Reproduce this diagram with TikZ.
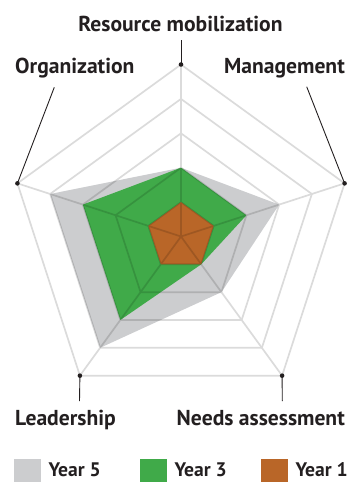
\documentclass[tikz,border=0pt]{standalone}
\usepackage{fontspec}
\setmainfont{PT Sans}
\definecolor{yfive}{RGB}{204,205,207}
\definecolor{ythree}{RGB}{64,170,73}
\definecolor{yone}{RGB}{185,102,40}
\definecolor{ink}{RGB}{35,31,32}
\tikzset{
  lbl/.style={font=\bfseries\fontsize{21.6}{25}\selectfont, text=ink, inner sep=0pt},
  leglbl/.style={font=\bfseries\fontsize{19.6}{23}\selectfont, text=ink, inner sep=0pt},
  leader/.style={draw=ink, line width=0.9pt},
  vdot/.style={fill=ink},
  gridline/.style={draw=black, line width=1.7pt, line join=miter},
  swatch/.style={inner sep=0pt, minimum width=26.5pt, minimum height=26.5pt, anchor=north west}
}
\begin{document}
\begin{tikzpicture}[x=1pt,y=-1pt]
\useasboundingbox (0,0) rectangle (350,482);
\begin{scope}[shift={(181,236.5)}]
  % data fills
  \fill[yfive] (-90:68.8) -- (-18:103.2) -- (54:68.8) -- (126:137.6) -- (198:137.6) -- cycle;
  \fill[ythree] (-90:68.8) -- (-18:68.8) -- (54:34.4) -- (126:103.2) -- (198:103.2) -- cycle;
  \fill[yone] (-90:34.4) -- (-18:34.4) -- (54:34.4) -- (126:34.4) -- (198:34.4) -- cycle;
  % grid
  \begin{scope}[transparency group, opacity=0.14]
    \foreach \r in {34.4,68.8,103.2,137.6,172}{
      \draw[gridline] (-90:\r) -- (-18:\r) -- (54:\r) -- (126:\r) -- (198:\r) -- cycle;
    }
    \foreach \a in {-90,-18,54,126,198}{
      \draw[gridline] (0,0) -- (\a:172);
    }
  \end{scope}
  % outer vertices
  \coordinate (vRM) at (-90:172);
  \coordinate (vMG) at (-18:172);
  \coordinate (vNA) at (54:172);
  \coordinate (vLD) at (126:172);
  \coordinate (vOR) at (198:172);
\end{scope}
% labels
\node[lbl, anchor=base] (lRM) at (180.5,31.5) {Resource mobilization};
\node[lbl, anchor=base west] (lOR) at (15,73.5) {Organization};
\node[lbl, anchor=base east] (lMG) at (345,73.5) {Management};
\node[lbl, anchor=base west] (lLD) at (15,425) {Leadership};
\node[lbl, anchor=base east] (lNA) at (345,425) {Needs assessment};
% leader ends
\coordinate (eRM) at (181,40);
\coordinate (eOR) at (54.3,87.3);
\coordinate (eMG) at (306.7,86.7);
\coordinate (eLD) at (79.5,401);
\coordinate (eNA) at (282.3,401);
\foreach \v/\e in {vRM/eRM, vOR/eOR, vMG/eMG, vLD/eLD, vNA/eNA}{
  \draw[leader] (\v) -- (\e);
  \fill[vdot] (\v) circle (2.3);
}
% legend
\node[swatch, fill=yfive] (s5) at (14,458.3) {};
\node[leglbl, anchor=base west] (t5) at (48.5,476.7) {Year 5};
\node[swatch, fill=ythree] (s3) at (140,458.3) {};
\node[leglbl, anchor=base west] (t3) at (174.5,476.7) {Year 3};
\node[swatch, fill=yone] (s1) at (261,458.3) {};
\node[leglbl, anchor=base west] (t1) at (295.5,476.7) {Year 1};
\end{tikzpicture}
\end{document}
